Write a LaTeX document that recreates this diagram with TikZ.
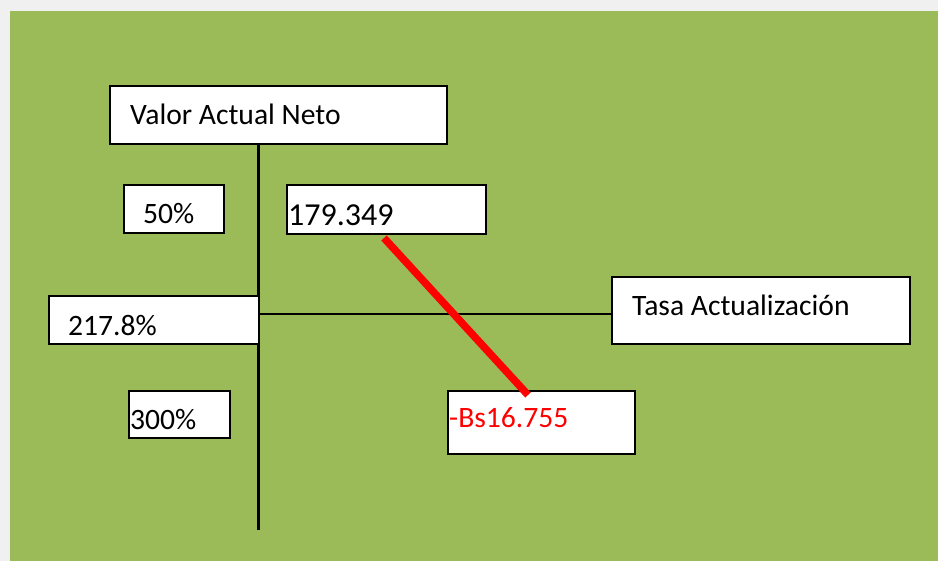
\documentclass[tikz,border=0pt]{standalone}
\usepackage{fontspec}
\setmainfont{Carlito}
\definecolor{bggray}{HTML}{F0F0F0}
\definecolor{olive}{HTML}{9BBB59}
\definecolor{vanred}{HTML}{FF0000}
\begin{document}
\begin{tikzpicture}[x=1pt,y=-1pt,
  box/.style={draw=black, line width=1.6pt, fill=white, inner sep=0pt, anchor=north west},
  lbl/.style={anchor=base west, inner sep=0pt, font=\fontsize{29.6}{34}\selectfont},
  axis/.style={draw=black, line width=3pt},
  haxis/.style={draw=black, line width=1.5pt},
  redline/.style={draw=vanred, line width=7.5pt}]
\useasboundingbox (0,0) rectangle (938,561);
\fill[bggray] (0,0) rectangle (938,561);
\fill[olive] (10,11) rectangle (938,561);

% axes
\coordinate (axtop) at (258,143);
\coordinate (axbot) at (258,530);
\coordinate (axmid) at (258,314);
\draw[axis] (axtop) -- (axbot);

\node[box, minimum width=337pt, minimum height=58pt] (van) at (109,85) {};
\node[box, minimum width=298pt, minimum height=67pt] (tasa) at (611,276) {};
\draw[haxis] (axmid) -- (axmid -| tasa.west);

\node[box, minimum width=100pt, minimum height=48pt] (p50) at (123,184) {};
\node[box, minimum width=199pt, minimum height=49pt] (v179) at (286,184) {};
\node[box, minimum width=210pt, minimum height=48pt] (p217) at (48,295) {};
\node[box, minimum width=101pt, minimum height=47pt] (p300) at (128,390) {};
\node[box, minimum width=187pt, minimum height=63pt] (vbs) at (447,390) {};

\node[lbl] (tvan) at (130,125) {Valor Actual Neto};
\node[lbl] (ttasa) at (632,316) {Tasa Actualización};
\node[lbl] (t50) at (143,224) {50\%};
\node[lbl, font=\fontsize{32}{36}\selectfont] (t179) at (288,226) {179.349};
\node[lbl] (t217) at (68,336) {217.8\%};
\node[lbl] (t300) at (130,430) {300\%};
\node[lbl, text=vanred] (tbs) at (449,428) {-Bs16.755};

\coordinate (rs) at (384,238);
\coordinate (re) at (528,395);
\draw[redline] (rs) -- (re);
\end{tikzpicture}
\end{document}
